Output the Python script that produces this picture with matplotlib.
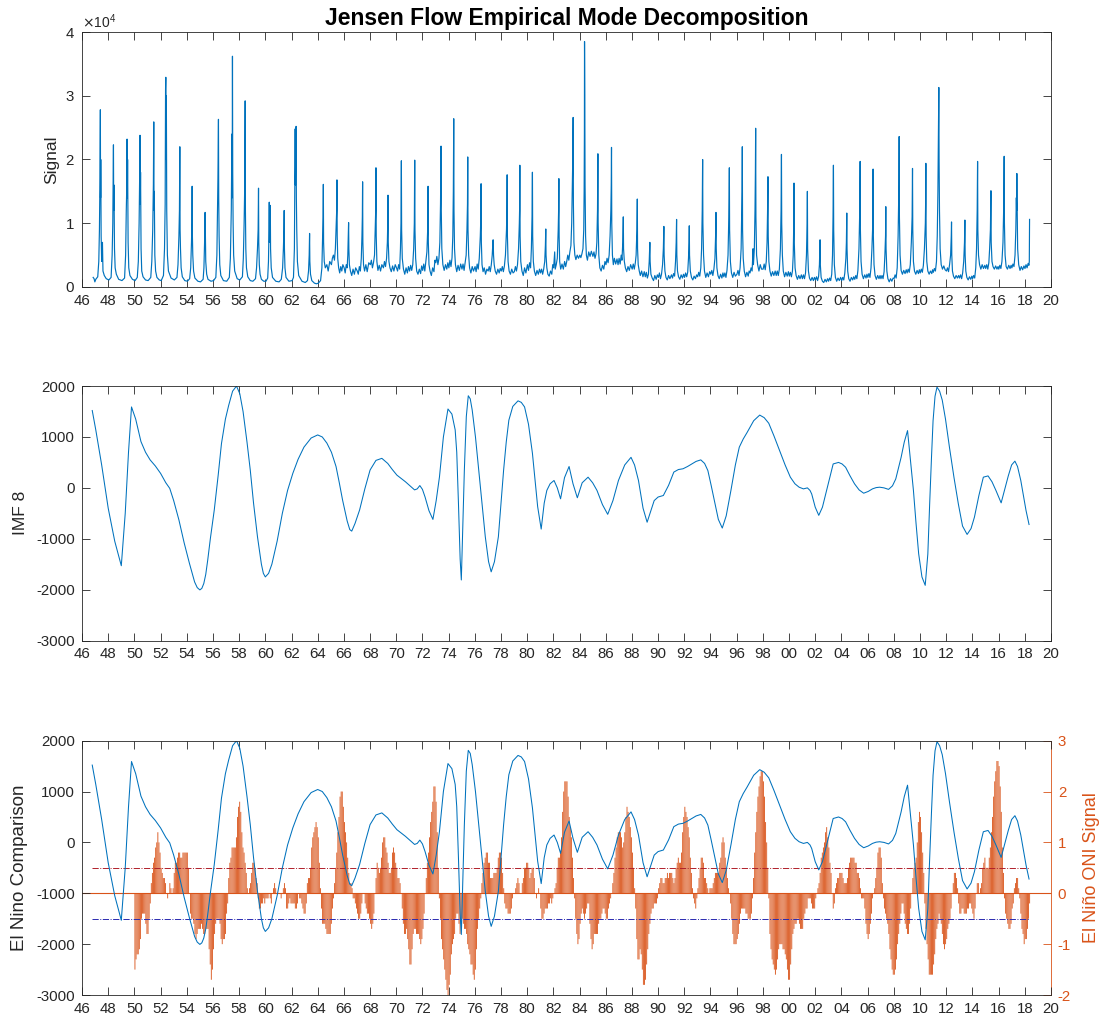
import numpy as np
import matplotlib
matplotlib.use("Agg")
import matplotlib.pyplot as plt
from matplotlib.ticker import FuncFormatter, MultipleLocator

plt.rcParams['font.family'] = ['Liberation Sans', 'DejaVu Sans']
plt.rcParams['axes.unicode_minus'] = False

# Green River at Jensen, daily flow (cfs) as (decimal year, flow) vertices
flow = [
    (1946.85, 1500), (1946.92, 1300), (1946.98, 800),
    (1947.05, 1200), (1947.20, 1600), (1947.28, 4000), (1947.33, 9000), (1947.37, 17000), (1947.40, 27800), (1947.415, 14000), (1947.43, 20000), (1947.46, 8000), (1947.50, 4000), (1947.56, 7000), (1947.60, 2500), (1947.70, 1800), (1947.85, 1300),
    (1948.05, 1100), (1948.22, 1500), (1948.30, 5000), (1948.35, 10000), (1948.38, 18000), (1948.40, 22300), (1948.42, 12000), (1948.44, 16000), (1948.48, 6000), (1948.53, 3000), (1948.62, 2000), (1948.80, 1200),
    (1949.05, 1000), (1949.25, 1400), (1949.33, 5000), (1949.38, 12000), (1949.41, 15000), (1949.44, 23200), (1949.46, 14000), (1949.48, 20000), (1949.52, 7000), (1949.57, 3000), (1949.66, 1800), (1949.85, 1200),
    (1950.05, 1000), (1950.22, 1500), (1950.30, 4000), (1950.36, 10000), (1950.40, 17000), (1950.43, 23800), (1950.45, 13000), (1950.47, 18000), (1950.51, 6000), (1950.56, 2500), (1950.66, 1600), (1950.85, 1100),
    (1951.05, 1000), (1951.25, 1500), (1951.33, 4000), (1951.40, 9000), (1951.45, 16000), (1951.48, 25900), (1951.50, 12000), (1951.52, 15000), (1951.56, 5000), (1951.62, 2500), (1951.72, 1500), (1951.90, 1100),
    (1952.05, 1000), (1952.22, 1800), (1952.30, 6000), (1952.35, 13000), (1952.38, 31000), (1952.40, 32900), (1952.42, 20000), (1952.44, 30000), (1952.47, 12000), (1952.52, 5000), (1952.60, 2500), (1952.80, 1400),
    (1953.05, 1100), (1953.25, 1500), (1953.33, 3500), (1953.40, 8000), (1953.44, 12000), (1953.47, 22000), (1953.49, 9000), (1953.52, 6000), (1953.57, 3000), (1953.66, 1600), (1953.85, 1000),
    (1954.05, 900), (1954.22, 1300), (1954.30, 3000), (1954.36, 7000), (1954.39, 10000), (1954.41, 15800), (1954.43, 8000), (1954.46, 5000), (1954.52, 2500), (1954.62, 1400), (1954.85, 900),
    (1955.05, 800), (1955.25, 1200), (1955.31, 3000), (1955.36, 7000), (1955.38, 11000), (1955.40, 11700), (1955.42, 8000), (1955.45, 4000), (1955.52, 2000), (1955.62, 1200), (1955.85, 900),
    (1956.05, 1000), (1956.22, 1500), (1956.30, 5000), (1956.35, 12000), (1956.38, 17000), (1956.40, 22000), (1956.42, 26300), (1956.44, 14000), (1956.47, 8000), (1956.52, 3500), (1956.60, 1800), (1956.80, 1000),
    (1957.05, 900), (1957.25, 1500), (1957.33, 4500), (1957.40, 12000), (1957.45, 24000), (1957.47, 14000), (1957.49, 36200), (1957.51, 18000), (1957.54, 10000), (1957.58, 5000), (1957.66, 2500), (1957.85, 1300),
    (1958.05, 1100), (1958.25, 1600), (1958.32, 4500), (1958.38, 10000), (1958.42, 15000), (1958.46, 29200), (1958.48, 12000), (1958.51, 6000), (1958.56, 3000), (1958.66, 1600), (1958.85, 1000),
    (1959.05, 900), (1959.25, 1300), (1959.33, 3000), (1959.40, 6000), (1959.45, 9000), (1959.48, 15500), (1959.50, 7000), (1959.54, 3500), (1959.60, 2000), (1959.70, 1200), (1959.88, 900),
    (1960.05, 900), (1960.18, 1400), (1960.24, 4000), (1960.28, 9000), (1960.30, 13300), (1960.32, 7000), (1960.35, 9000), (1960.38, 12800), (1960.40, 6000), (1960.45, 3000), (1960.55, 1500), (1960.80, 900),
    (1961.05, 800), (1961.22, 1200), (1961.32, 3000), (1961.38, 6000), (1961.42, 9000), (1961.44, 12000), (1961.46, 6000), (1961.50, 3000), (1961.58, 1500), (1961.80, 900),
    (1962.05, 1000), (1962.15, 1500), (1962.22, 6000), (1962.26, 20000), (1962.28, 24800), (1962.30, 16000), (1962.32, 21000), (1962.35, 25200), (1962.37, 14000), (1962.40, 9000), (1962.45, 4000), (1962.55, 1800), (1962.80, 900),
    (1963.05, 700), (1963.22, 1000), (1963.30, 2500), (1963.35, 5000), (1963.38, 8400), (1963.40, 4000), (1963.45, 2000), (1963.55, 1000), (1963.75, 600), (1963.90, 500),
    (1964.05, 600), (1964.22, 1000), (1964.32, 3000), (1964.38, 8000), (1964.41, 11000), (1964.43, 16100), (1964.45, 7000), (1964.50, 4000), (1964.58, 3000), (1964.70, 3500), (1964.80, 2500), (1964.92, 4000),
    (1965.05, 3500), (1965.12, 4500), (1965.20, 5000), (1965.28, 4200), (1965.35, 6000), (1965.40, 9000), (1965.45, 12000), (1965.47, 16800), (1965.49, 8000), (1965.53, 4500), (1965.60, 3000), (1965.68, 2200), (1965.76, 3200), (1965.84, 2500), (1965.92, 3500),
    (1966.02, 3000), (1966.10, 2200), (1966.18, 3500), (1966.25, 3000), (1966.30, 5000), (1966.34, 8000), (1966.36, 10100), (1966.38, 6000), (1966.42, 3500), (1966.50, 2500), (1966.60, 1800), (1966.70, 2800), (1966.80, 2000), (1966.90, 3000),
    (1967.02, 2500), (1967.10, 2000), (1967.18, 3200), (1967.26, 2500), (1967.33, 4500), (1967.38, 8000), (1967.41, 11000), (1967.43, 16500), (1967.45, 7000), (1967.50, 3500), (1967.58, 2500), (1967.68, 3500), (1967.78, 2400), (1967.90, 3800),
    (1968.02, 3500), (1968.10, 4200), (1968.18, 3000), (1968.26, 3800), (1968.34, 5000), (1968.40, 10000), (1968.43, 12000), (1968.45, 18700), (1968.47, 8000), (1968.52, 4000), (1968.60, 2600), (1968.70, 3400), (1968.80, 2500), (1968.90, 3500),
    (1969.02, 3000), (1969.10, 4000), (1969.18, 3200), (1969.26, 4500), (1969.32, 7000), (1969.35, 10000), (1969.37, 14400), (1969.39, 7000), (1969.44, 4000), (1969.52, 3000), (1969.62, 2400), (1969.72, 3300), (1969.82, 2500), (1969.92, 3500),
    (1970.02, 3000), (1970.10, 2500), (1970.18, 3500), (1970.26, 2800), (1970.32, 6000), (1970.36, 10000), (1970.39, 19800), (1970.41, 9000), (1970.46, 4500), (1970.55, 2800), (1970.65, 2000), (1970.75, 3000), (1970.85, 2200), (1970.93, 3200),
    (1971.02, 2500), (1971.10, 3400), (1971.18, 2600), (1971.26, 3500), (1971.33, 6000), (1971.38, 10000), (1971.41, 19900), (1971.43, 9000), (1971.48, 4500), (1971.56, 2500), (1971.66, 2000), (1971.76, 2800), (1971.86, 2100), (1971.94, 3300),
    (1972.02, 2600), (1972.10, 3600), (1972.18, 2500), (1972.26, 4000), (1972.34, 5500), (1972.40, 9000), (1972.43, 15800), (1972.45, 7000), (1972.50, 3500), (1972.58, 2500), (1972.68, 1800), (1972.78, 3000), (1972.88, 2400), (1972.95, 4200),
    (1973.02, 3800), (1973.10, 4800), (1973.18, 3500), (1973.26, 4500), (1973.33, 7000), (1973.38, 13000), (1973.40, 17000), (1973.42, 22100), (1973.44, 12000), (1973.48, 6000), (1973.56, 3500), (1973.66, 2600), (1973.76, 3500), (1973.86, 2800), (1973.94, 3800),
    (1974.02, 3000), (1974.10, 4200), (1974.18, 3200), (1974.26, 4600), (1974.32, 8000), (1974.36, 15000), (1974.39, 26400), (1974.41, 12000), (1974.45, 6000), (1974.52, 3500), (1974.62, 2400), (1974.72, 3400), (1974.82, 2600), (1974.92, 3600),
    (1975.02, 2800), (1975.10, 3600), (1975.18, 2600), (1975.26, 3800), (1975.34, 5000), (1975.40, 9000), (1975.44, 13000), (1975.46, 20400), (1975.48, 9000), (1975.53, 5000), (1975.60, 3000), (1975.70, 2200), (1975.80, 3200), (1975.90, 2500),
    (1976.02, 3200), (1976.10, 2400), (1976.18, 3600), (1976.26, 2800), (1976.34, 4500), (1976.42, 8000), (1976.46, 11000), (1976.48, 16200), (1976.50, 7000), (1976.55, 3500), (1976.63, 2400), (1976.72, 3000), (1976.82, 2000), (1976.92, 2800),
    (1977.02, 2500), (1977.10, 3200), (1977.18, 2400), (1977.26, 3500), (1977.33, 5000), (1977.38, 7000), (1977.40, 7400), (1977.43, 5000), (1977.48, 3500), (1977.56, 2500), (1977.66, 2000), (1977.76, 2800), (1977.86, 2200), (1977.94, 2900),
    (1978.02, 2500), (1978.10, 3200), (1978.18, 2400), (1978.26, 3300), (1978.34, 5000), (1978.42, 9000), (1978.45, 12000), (1978.47, 17600), (1978.49, 8000), (1978.54, 4000), (1978.62, 2500), (1978.72, 2000), (1978.82, 2800), (1978.92, 2200),
    (1979.02, 2400), (1979.10, 3200), (1979.18, 2500), (1979.26, 3500), (1979.34, 6000), (1979.40, 10000), (1979.42, 12000), (1979.44, 19100), (1979.46, 8000), (1979.51, 4000), (1979.60, 2500), (1979.70, 1800), (1979.80, 3000), (1979.90, 2200),
    (1980.02, 3500), (1980.10, 2600), (1980.18, 3800), (1980.26, 3000), (1980.32, 6000), (1980.37, 11000), (1980.40, 18000), (1980.42, 8000), (1980.47, 4000), (1980.55, 2500), (1980.65, 1800), (1980.75, 2600), (1980.85, 2000), (1980.94, 2800),
    (1981.02, 2200), (1981.10, 2800), (1981.18, 2000), (1981.26, 2800), (1981.34, 4000), (1981.39, 6500), (1981.42, 9100), (1981.44, 5000), (1981.50, 3000), (1981.58, 2000), (1981.68, 1700), (1981.78, 2500), (1981.88, 2000), (1981.95, 3500),
    (1982.02, 3000), (1982.10, 5500), (1982.14, 2800), (1982.22, 3500), (1982.30, 4500), (1982.37, 9000), (1982.40, 12000), (1982.42, 17000), (1982.44, 8000), (1982.48, 4000), (1982.56, 2800), (1982.66, 3600), (1982.76, 2800), (1982.86, 4000), (1982.94, 3200),
    (1983.02, 4000), (1983.10, 5000), (1983.18, 4200), (1983.26, 5500), (1983.34, 6500), (1983.40, 10000), (1983.45, 16000), (1983.48, 20000), (1983.51, 26600), (1983.53, 13000), (1983.57, 7000), (1983.64, 5000), (1983.72, 4300), (1983.82, 5000), (1983.92, 4500),
    (1984.02, 5000), (1984.10, 4600), (1984.18, 5200), (1984.26, 6000), (1984.32, 9000), (1984.35, 15000), (1984.37, 24000), (1984.38, 38500), (1984.40, 30000), (1984.42, 16000), (1984.46, 8000), (1984.52, 5000), (1984.60, 4200), (1984.70, 5500), (1984.80, 4800), (1984.90, 5600),
    (1985.02, 4800), (1985.10, 5500), (1985.18, 4500), (1985.26, 5200), (1985.32, 7000), (1985.37, 12000), (1985.40, 20900), (1985.42, 10000), (1985.47, 5000), (1985.55, 3000), (1985.65, 2500), (1985.75, 3400), (1985.85, 2800), (1985.94, 4000),
    (1986.02, 3500), (1986.10, 4500), (1986.18, 3800), (1986.26, 5000), (1986.33, 8000), (1986.39, 12000), (1986.42, 16000), (1986.44, 21900), (1986.46, 10000), (1986.51, 5000), (1986.58, 3500), (1986.66, 4500), (1986.76, 3600), (1986.86, 4400), (1986.94, 3500),
    (1987.02, 4500), (1987.10, 3600), (1987.18, 5000), (1987.24, 4200), (1987.30, 7000), (1987.34, 11000), (1987.36, 6000), (1987.42, 4000), (1987.50, 3000), (1987.60, 2400), (1987.70, 3200), (1987.80, 2600), (1987.90, 3500),
    (1988.02, 2800), (1988.10, 3600), (1988.18, 2800), (1988.26, 3800), (1988.32, 5000), (1988.38, 9000), (1988.41, 13800), (1988.43, 6000), (1988.48, 3500), (1988.56, 2500), (1988.64, 1800), (1988.74, 2500), (1988.84, 1600), (1988.94, 2400),
    (1989.02, 1600), (1989.10, 2300), (1989.18, 1400), (1989.26, 2000), (1989.32, 4000), (1989.37, 7000), (1989.39, 4000), (1989.45, 2000), (1989.55, 1400), (1989.65, 1000), (1989.75, 1800), (1989.85, 1200), (1989.94, 1900),
    (1990.02, 1500), (1990.10, 2200), (1990.18, 1300), (1990.26, 2000), (1990.34, 3500), (1990.40, 6000), (1990.44, 9500), (1990.46, 5000), (1990.52, 2500), (1990.60, 1500), (1990.70, 1100), (1990.80, 1800), (1990.90, 1300),
    (1991.02, 1900), (1991.10, 1400), (1991.18, 2100), (1991.26, 1700), (1991.33, 4000), (1991.38, 7000), (1991.41, 10600), (1991.43, 5000), (1991.48, 2500), (1991.56, 1600), (1991.66, 1200), (1991.76, 1900), (1991.86, 1400), (1991.94, 2000),
    (1992.02, 1500), (1992.10, 2200), (1992.18, 1600), (1992.26, 2300), (1992.32, 4500), (1992.36, 7000), (1992.38, 9600), (1992.40, 5000), (1992.46, 2500), (1992.55, 1500), (1992.65, 1100), (1992.75, 1700), (1992.85, 1300), (1992.94, 1900),
    (1993.02, 1600), (1993.10, 2300), (1993.18, 1700), (1993.26, 3000), (1993.32, 6000), (1993.37, 12000), (1993.40, 20000), (1993.42, 10000), (1993.47, 5000), (1993.54, 2500), (1993.64, 1500), (1993.74, 2200), (1993.84, 1600), (1993.94, 2400),
    (1994.02, 2000), (1994.10, 2600), (1994.18, 1800), (1994.26, 2800), (1994.34, 4500), (1994.39, 8000), (1994.42, 11700), (1994.44, 6000), (1994.49, 3000), (1994.57, 1800), (1994.67, 1300), (1994.77, 2000), (1994.87, 1400), (1994.95, 2200),
    (1995.02, 1600), (1995.10, 2200), (1995.18, 1500), (1995.26, 2600), (1995.34, 5000), (1995.40, 11000), (1995.42, 14000), (1995.44, 18700), (1995.46, 9000), (1995.52, 4000), (1995.60, 2200), (1995.70, 1500), (1995.80, 2300), (1995.90, 1700),
    (1996.02, 2000), (1996.10, 2600), (1996.18, 1800), (1996.26, 3000), (1996.34, 6000), (1996.39, 12000), (1996.41, 15000), (1996.43, 22000), (1996.45, 9000), (1996.50, 4500), (1996.58, 2500), (1996.68, 1600), (1996.78, 2300), (1996.88, 1700), (1996.95, 2500),
    (1997.02, 2200), (1997.10, 3000), (1997.18, 2500), (1997.25, 6000), (1997.28, 3500), (1997.35, 6000), (1997.40, 12000), (1997.43, 18000), (1997.45, 24900), (1997.47, 11000), (1997.52, 5000), (1997.60, 3500), (1997.70, 2500), (1997.80, 3500), (1997.90, 2800),
    (1998.02, 2800), (1998.10, 3600), (1998.18, 2700), (1998.26, 4000), (1998.32, 7000), (1998.36, 12000), (1998.39, 17300), (1998.41, 8000), (1998.46, 4000), (1998.54, 2500), (1998.64, 1700), (1998.74, 2400), (1998.84, 1800), (1998.94, 2500),
    (1999.02, 1800), (1999.10, 2500), (1999.18, 1800), (1999.26, 2800), (1999.34, 6000), (1999.39, 12000), (1999.42, 20800), (1999.44, 10000), (1999.49, 5000), (1999.56, 2500), (1999.66, 1600), (1999.76, 2300), (1999.86, 1700), (1999.95, 2400),
    (2000.02, 1700), (2000.10, 2300), (2000.18, 1600), (2000.26, 2500), (2000.32, 5000), (2000.36, 10000), (2000.38, 16300), (2000.40, 7000), (2000.46, 3000), (2000.54, 1800), (2000.64, 1200), (2000.74, 1800), (2000.84, 1300), (2000.94, 1900),
    (2001.02, 1300), (2001.10, 1900), (2001.18, 1300), (2001.26, 2200), (2001.33, 5000), (2001.38, 10000), (2001.40, 15000), (2001.42, 6000), (2001.48, 2500), (2001.56, 1400), (2001.66, 1000), (2001.76, 1500), (2001.86, 1000), (2001.94, 1500),
    (2002.02, 1100), (2002.10, 1600), (2002.18, 1000), (2002.26, 1700), (2002.32, 3500), (2002.37, 7400), (2002.39, 3500), (2002.45, 1500), (2002.55, 900), (2002.65, 700), (2002.75, 1200), (2002.85, 800), (2002.94, 1300),
    (2003.02, 900), (2003.10, 1400), (2003.18, 1000), (2003.26, 2000), (2003.32, 5000), (2003.36, 11000), (2003.39, 19100), (2003.41, 9000), (2003.46, 3500), (2003.54, 1500), (2003.64, 900), (2003.74, 1400), (2003.84, 1000), (2003.94, 1500),
    (2004.02, 1000), (2004.10, 1500), (2004.18, 1100), (2004.26, 2200), (2004.34, 4500), (2004.38, 7000), (2004.41, 11600), (2004.43, 6000), (2004.48, 2500), (2004.56, 1300), (2004.66, 900), (2004.76, 1500), (2004.86, 1100), (2004.94, 1600),
    (2005.02, 1200), (2005.10, 1800), (2005.18, 1300), (2005.26, 2600), (2005.34, 6000), (2005.40, 12000), (2005.43, 19700), (2005.45, 9000), (2005.50, 4000), (2005.58, 2000), (2005.68, 1300), (2005.78, 1900), (2005.88, 1400), (2005.95, 2000),
    (2006.02, 1500), (2006.10, 2100), (2006.18, 1500), (2006.26, 3000), (2006.33, 6000), (2006.38, 9000), (2006.40, 12000), (2006.42, 18500), (2006.44, 8000), (2006.49, 3500), (2006.57, 1800), (2006.67, 1200), (2006.77, 1800), (2006.87, 1300), (2006.95, 1800),
    (2007.02, 1300), (2007.10, 1800), (2007.18, 1300), (2007.26, 2400), (2007.32, 5000), (2007.37, 8000), (2007.39, 12600), (2007.41, 6000), (2007.47, 2500), (2007.55, 1300), (2007.65, 800), (2007.75, 1300), (2007.85, 900), (2007.95, 1400),
    (2008.02, 1300), (2008.10, 1900), (2008.18, 1400), (2008.26, 3000), (2008.33, 8000), (2008.37, 13000), (2008.39, 16000), (2008.41, 23600), (2008.43, 11000), (2008.48, 5000), (2008.56, 2600), (2008.66, 2000), (2008.76, 2600), (2008.86, 2100), (2008.95, 2700),
    (2009.02, 2200), (2009.10, 2800), (2009.18, 2300), (2009.26, 3500), (2009.34, 7000), (2009.40, 11000), (2009.43, 18600), (2009.45, 9000), (2009.50, 4000), (2009.58, 2500), (2009.68, 2000), (2009.78, 2600), (2009.88, 2100), (2009.95, 2700),
    (2010.02, 2200), (2010.10, 2800), (2010.18, 2300), (2010.26, 3400), (2010.34, 6000), (2010.41, 10000), (2010.43, 13000), (2010.45, 19400), (2010.47, 8000), (2010.52, 4000), (2010.60, 2500), (2010.70, 2000), (2010.80, 2500), (2010.90, 2100), (2010.96, 2700),
    (2011.02, 2300), (2011.10, 2900), (2011.18, 2500), (2011.26, 4000), (2011.32, 8000), (2011.37, 15000), (2011.40, 22000), (2011.42, 26000), (2011.44, 31300), (2011.46, 20000), (2011.49, 12000), (2011.54, 6000), (2011.62, 3500), (2011.72, 2800), (2011.82, 3300), (2011.92, 2700),
    (2012.02, 2500), (2012.10, 3000), (2012.18, 2400), (2012.26, 3500), (2012.34, 5000), (2012.39, 8000), (2012.41, 10200), (2012.43, 5000), (2012.48, 2500), (2012.56, 1700), (2012.66, 1300), (2012.76, 1800), (2012.86, 1400), (2012.95, 1800),
    (2013.02, 1400), (2013.10, 1900), (2013.18, 1300), (2013.26, 2200), (2013.34, 4000), (2013.40, 7000), (2013.43, 10500), (2013.45, 5000), (2013.50, 2500), (2013.58, 1500), (2013.68, 1100), (2013.78, 1600), (2013.88, 1200), (2013.96, 1700),
    (2014.02, 1300), (2014.10, 1800), (2014.18, 1400), (2014.26, 3000), (2014.32, 6000), (2014.37, 12000), (2014.40, 19700), (2014.42, 9000), (2014.47, 5000), (2014.55, 3500), (2014.65, 2800), (2014.75, 3500), (2014.85, 2900), (2014.95, 3400),
    (2015.02, 2900), (2015.10, 3500), (2015.18, 2800), (2015.26, 3800), (2015.32, 6000), (2015.38, 9000), (2015.42, 15100), (2015.44, 7000), (2015.50, 4000), (2015.58, 3200), (2015.68, 2800), (2015.78, 3300), (2015.88, 2800), (2015.96, 3200),
    (2016.02, 2800), (2016.10, 3400), (2016.18, 2900), (2016.26, 4000), (2016.34, 7000), (2016.40, 13000), (2016.43, 20500), (2016.45, 10000), (2016.50, 5000), (2016.58, 3200), (2016.68, 2800), (2016.78, 3400), (2016.88, 2900), (2016.96, 3400),
    (2017.02, 3000), (2017.10, 3600), (2017.18, 3200), (2017.26, 5000), (2017.32, 9000), (2017.36, 14000), (2017.38, 12000), (2017.40, 17800), (2017.42, 13000), (2017.46, 6000), (2017.54, 3500), (2017.64, 2600), (2017.74, 3200), (2017.84, 2700), (2017.94, 3300),
    (2018.02, 2900), (2018.10, 3500), (2018.18, 3000), (2018.26, 3700), (2018.32, 3400), (2018.35, 4000), (2018.37, 10600),
]

# intrinsic mode function 8 of the flow record
imf8 = [
    (1946.78, 1520), (1947.05, 1140), (1947.50, 450), (1948.00, -400), (1948.50, -1050),
    (1949.00, -1530), (1949.30, -500), (1949.55, 700), (1949.78, 1590), (1950.10, 1350),
    (1950.50, 910), (1950.85, 700), (1951.20, 550), (1951.60, 430), (1952.00, 285),
    (1952.40, 100), (1952.70, -10), (1953.00, -250), (1953.40, -630), (1953.80, -1080),
    (1954.20, -1480), (1954.60, -1850), (1954.80, -1960), (1955.00, -2005), (1955.15, -1975),
    (1955.30, -1880), (1955.45, -1700), (1955.60, -1420), (1955.80, -1000), (1956.10, -435),
    (1956.40, 250), (1956.65, 870), (1956.95, 1350), (1957.20, 1620), (1957.50, 1900),
    (1957.80, 2000), (1958.05, 1850), (1958.30, 1500), (1958.60, 900), (1958.85, 350),
    (1959.10, -300), (1959.40, -960), (1959.70, -1500), (1959.85, -1680), (1960.00, -1750),
    (1960.25, -1680), (1960.50, -1500), (1960.90, -1050), (1961.30, -500), (1961.70, -50),
    (1962.10, 285), (1962.50, 560), (1962.95, 800), (1963.50, 980), (1964.00, 1040),
    (1964.35, 1000), (1964.70, 880), (1965.05, 700), (1965.40, 420), (1965.65, 100),
    (1965.90, -240), (1966.25, -650), (1966.45, -820), (1966.60, -850), (1966.85, -700),
    (1967.20, -435), (1967.60, -20), (1968.00, 350), (1968.45, 540), (1968.90, 580),
    (1969.35, 480), (1969.70, 360), (1970.05, 250), (1970.40, 180), (1970.70, 120),
    (1971.05, 40), (1971.40, -40), (1971.60, -20), (1971.80, 45), (1972.00, -30),
    (1972.20, -180), (1972.50, -450), (1972.80, -620), (1973.05, -250), (1973.30, 215),
    (1973.60, 1000), (1973.95, 1550), (1974.25, 1450), (1974.50, 1140), (1974.62, 700),
    (1974.75, -300), (1974.88, -1400), (1974.97, -1810), (1975.08, -800), (1975.20, 340),
    (1975.35, 1400), (1975.50, 1810), (1975.65, 1750), (1975.80, 1530), (1976.05, 1000),
    (1976.30, 350), (1976.55, -300), (1976.80, -960), (1977.05, -1450), (1977.25, -1650),
    (1977.50, -1450), (1977.80, -960), (1978.00, -300), (1978.20, 350), (1978.40, 900),
    (1978.60, 1330), (1978.90, 1600), (1979.30, 1710), (1979.55, 1680), (1979.80, 1590),
    (1980.10, 1250), (1980.40, 680), (1980.60, 150), (1980.80, -370), (1981.07, -810),
    (1981.30, -300), (1981.50, -50), (1981.75, 80), (1982.05, 145), (1982.30, 0),
    (1982.55, -215), (1982.85, 200), (1983.20, 420), (1983.50, 80), (1983.83, -195),
    (1984.20, 100), (1984.65, 210), (1985.00, 100), (1985.33, -50), (1985.75, -330),
    (1986.15, -520), (1986.55, -250), (1986.97, 145), (1987.45, 450), (1987.93, 600),
    (1988.20, 450), (1988.50, 145), (1988.85, -400), (1989.16, -675), (1989.45, -450),
    (1989.70, -250), (1990.00, -180), (1990.40, -150), (1990.80, 50), (1991.20, 310),
    (1991.55, 360), (1991.90, 375), (1992.25, 420), (1992.57, 470), (1992.90, 520),
    (1993.26, 550), (1993.55, 480), (1993.80, 340), (1994.05, 50), (1994.35, -315),
    (1994.60, -620), (1994.90, -790), (1995.20, -550), (1995.56, -52), (1995.90, 450),
    (1996.20, 800), (1996.50, 960), (1996.80, 1090), (1997.30, 1320), (1997.76, 1430),
    (1998.10, 1380), (1998.45, 1270), (1998.85, 1020), (1999.27, 740), (1999.70, 450),
    (2000.10, 210), (2000.45, 80), (2000.77, 13), (2001.10, -20), (2001.40, 0),
    (2001.60, -50), (2001.73, -120), (2002.00, -380), (2002.27, -540), (2002.55, -380),
    (2002.80, -120), (2003.10, 200), (2003.37, 470), (2003.78, 500), (2004.05, 470),
    (2004.32, 405), (2004.65, 240), (2005.00, 80), (2005.35, -40), (2005.70, -105),
    (2006.05, -70), (2006.37, -20), (2006.65, 5), (2006.92, 13), (2007.25, 0),
    (2007.60, -30), (2007.90, 40), (2008.15, 175), (2008.35, 380), (2008.56, 600),
    (2008.80, 900), (2009.05, 1125), (2009.25, 600), (2009.50, -50), (2009.70, -700),
    (2009.90, -1295), (2010.15, -1750), (2010.40, -1915), (2010.60, -1300), (2010.74, -315),
    (2010.88, 600), (2011.00, 1320), (2011.15, 1800), (2011.30, 1980), (2011.50, 1900),
    (2011.70, 1725), (2011.95, 1350), (2012.25, 800), (2012.60, 200), (2012.93, -315),
    (2013.25, -750), (2013.60, -915), (2013.90, -800), (2014.16, -575), (2014.50, -150),
    (2014.84, 210), (2015.20, 235), (2015.50, 120), (2015.80, -50), (2016.20, -295),
    (2016.45, -50), (2016.75, 240), (2017.00, 450), (2017.25, 525), (2017.45, 420),
    (2017.70, 145), (2017.90, -150), (2018.10, -445), (2018.33, -720),
]

# Oceanic Nino Index, 3-month running seasons DJF..NDJ, from 1950
oni_start = 1950
oni = [
    [-1.5, -1.3, -1.2, -1.2, -1.1, -0.9, -0.5, -0.4, -0.4, -0.4, -0.6, -0.8],
    [-0.8, -0.5, -0.2, 0.2, 0.4, 0.6, 0.7, 0.9, 1.0, 1.2, 1.0, 0.8],
    [0.5, 0.4, 0.3, 0.3, 0.2, 0.0, -0.1, 0.0, 0.2, 0.1, 0.0, 0.1],
    [0.4, 0.6, 0.6, 0.7, 0.8, 0.8, 0.7, 0.7, 0.8, 0.8, 0.8, 0.8],
    [0.8, 0.5, 0.0, -0.4, -0.5, -0.5, -0.6, -0.8, -0.9, -0.8, -0.7, -0.7],
    [-0.7, -0.6, -0.7, -0.8, -0.8, -0.7, -0.7, -0.7, -1.1, -1.4, -1.7, -1.5],
    [-1.1, -0.8, -0.6, -0.5, -0.5, -0.5, -0.6, -0.9, -1.0, -0.9, -0.9, -0.8],
    [-0.4, -0.2, 0.3, 0.6, 0.7, 0.9, 0.9, 0.9, 0.9, 1.1, 1.5, 1.7],
    [1.8, 1.6, 1.2, 0.9, 0.8, 0.6, 0.4, 0.1, 0.0, 0.1, 0.2, 0.4],
    [0.6, 0.6, 0.5, 0.3, 0.2, -0.1, -0.3, -0.3, -0.2, -0.2, -0.1, -0.2],
    [-0.1, -0.1, -0.1, 0.0, -0.1, -0.2, 0.0, 0.1, 0.2, 0.1, 0.0, 0.0],
    [0.0, 0.0, -0.1, 0.0, 0.1, 0.2, 0.1, -0.3, -0.3, -0.2, -0.1, -0.2],
    [-0.2, -0.2, -0.2, -0.3, -0.3, -0.2, 0.0, -0.1, -0.1, -0.2, -0.3, -0.4],
    [-0.4, -0.2, 0.2, 0.3, 0.3, 0.5, 0.9, 1.1, 1.2, 1.3, 1.4, 1.3],
    [1.1, 0.6, 0.1, -0.3, -0.6, -0.6, -0.6, -0.7, -0.8, -0.8, -0.8, -0.8],
    [-0.6, -0.3, -0.1, 0.2, 0.5, 0.8, 1.2, 1.5, 1.9, 2.0, 2.0, 1.7],
    [1.4, 1.2, 1.0, 0.7, 0.4, 0.2, 0.2, 0.1, -0.1, -0.1, -0.2, -0.3],
    [-0.4, -0.5, -0.5, -0.4, -0.2, 0.0, 0.0, -0.2, -0.3, -0.4, -0.4, -0.5],
    [-0.6, -0.7, -0.6, -0.4, 0.0, 0.3, 0.6, 0.5, 0.4, 0.5, 0.7, 1.0],
    [1.1, 1.1, 0.9, 0.8, 0.6, 0.4, 0.4, 0.5, 0.8, 0.9, 0.8, 0.6],
    [0.5, 0.3, 0.3, 0.2, 0.0, -0.3, -0.6, -0.8, -0.8, -0.7, -0.9, -1.1],
    [-1.4, -1.4, -1.1, -0.8, -0.7, -0.7, -0.8, -0.8, -0.8, -0.9, -1.0, -0.9],
    [-0.7, -0.4, 0.0, 0.3, 0.6, 0.8, 1.1, 1.4, 1.6, 1.8, 2.1, 2.1],
    [1.8, 1.2, 0.5, -0.1, -0.5, -0.9, -1.1, -1.3, -1.5, -1.7, -1.9, -2.0],
    [-1.8, -1.6, -1.2, -1.0, -0.9, -0.8, -0.5, -0.4, -0.4, -0.6, -0.8, -0.6],
    [-0.5, -0.6, -0.7, -0.7, -0.8, -1.0, -1.1, -1.2, -1.4, -1.4, -1.6, -1.7],
    [-1.5, -1.1, -0.7, -0.5, -0.3, -0.1, 0.2, 0.4, 0.6, 0.7, 0.8, 0.8],
    [0.6, 0.6, 0.3, 0.3, 0.3, 0.4, 0.4, 0.4, 0.5, 0.7, 0.8, 0.8],
    [0.7, 0.4, 0.1, -0.2, -0.3, -0.3, -0.4, -0.4, -0.4, -0.3, -0.1, 0.0],
    [0.0, 0.1, 0.2, 0.3, 0.2, 0.0, 0.0, 0.2, 0.3, 0.5, 0.5, 0.6],
    [0.6, 0.5, 0.3, 0.4, 0.5, 0.5, 0.3, 0.0, -0.1, 0.0, 0.1, 0.0],
    [-0.3, -0.5, -0.5, -0.4, -0.3, -0.3, -0.3, -0.2, -0.2, -0.1, -0.2, -0.1],
    [0.0, 0.1, 0.2, 0.5, 0.7, 0.7, 0.8, 1.1, 1.6, 2.0, 2.2, 2.2],
    [2.2, 1.9, 1.5, 1.3, 1.1, 0.7, 0.3, -0.1, -0.5, -0.8, -1.0, -0.9],
    [-0.6, -0.4, -0.3, -0.4, -0.5, -0.4, -0.3, -0.2, -0.2, -0.6, -0.9, -1.1],
    [-1.0, -0.8, -0.8, -0.8, -0.8, -0.6, -0.5, -0.5, -0.4, -0.3, -0.3, -0.4],
    [-0.5, -0.5, -0.3, -0.2, -0.1, 0.0, 0.2, 0.4, 0.7, 0.9, 1.1, 1.2],
    [1.2, 1.2, 1.1, 0.9, 1.0, 1.2, 1.5, 1.7, 1.6, 1.5, 1.3, 1.1],
    [0.8, 0.5, 0.1, -0.3, -0.9, -1.3, -1.3, -1.1, -1.2, -1.5, -1.8, -1.8],
    [-1.7, -1.4, -1.1, -0.8, -0.6, -0.4, -0.3, -0.3, -0.2, -0.2, -0.2, -0.1],
    [0.1, 0.2, 0.3, 0.3, 0.2, 0.2, 0.3, 0.3, 0.4, 0.3, 0.4, 0.4],
    [0.4, 0.3, 0.2, 0.3, 0.5, 0.6, 0.7, 0.6, 0.6, 0.8, 1.2, 1.5],
    [1.7, 1.6, 1.5, 1.3, 1.1, 0.7, 0.4, 0.1, -0.1, -0.2, -0.3, -0.1],
    [0.1, 0.3, 0.5, 0.7, 0.7, 0.6, 0.3, 0.3, 0.2, 0.1, 0.0, 0.1],
    [0.1, 0.1, 0.2, 0.3, 0.4, 0.4, 0.4, 0.4, 0.6, 0.7, 1.0, 1.1],
    [1.0, 0.7, 0.5, 0.3, 0.1, 0.0, -0.2, -0.5, -0.8, -1.0, -1.0, -1.0],
    [-0.9, -0.8, -0.6, -0.4, -0.3, -0.3, -0.3, -0.3, -0.4, -0.4, -0.5, -0.5],
    [-0.5, -0.4, -0.1, 0.3, 0.8, 1.2, 1.6, 1.9, 2.1, 2.3, 2.4, 2.4],
    [2.2, 1.9, 1.4, 1.0, 0.5, -0.1, -0.8, -1.1, -1.3, -1.4, -1.5, -1.6],
    [-1.5, -1.3, -1.1, -1.0, -1.0, -1.0, -1.1, -1.1, -1.2, -1.3, -1.5, -1.7],
    [-1.7, -1.4, -1.1, -0.8, -0.7, -0.6, -0.6, -0.5, -0.5, -0.6, -0.7, -0.7],
    [-0.7, -0.5, -0.4, -0.3, -0.3, -0.1, -0.1, -0.1, -0.2, -0.3, -0.3, -0.3],
    [-0.1, 0.0, 0.1, 0.2, 0.4, 0.7, 0.8, 0.9, 1.0, 1.2, 1.3, 1.1],
    [0.9, 0.6, 0.4, 0.0, -0.3, -0.2, 0.1, 0.2, 0.3, 0.3, 0.4, 0.4],
    [0.4, 0.3, 0.2, 0.2, 0.2, 0.3, 0.5, 0.6, 0.7, 0.7, 0.7, 0.7],
    [0.6, 0.6, 0.4, 0.4, 0.3, 0.1, -0.1, -0.1, -0.1, -0.3, -0.6, -0.8],
    [-0.9, -0.8, -0.6, -0.4, -0.1, 0.0, 0.1, 0.3, 0.5, 0.8, 0.9, 0.9],
    [0.7, 0.2, -0.1, -0.3, -0.4, -0.5, -0.6, -0.8, -1.1, -1.3, -1.5, -1.6],
    [-1.6, -1.5, -1.3, -1.0, -0.8, -0.6, -0.4, -0.2, -0.2, -0.4, -0.6, -0.7],
    [-0.8, -0.8, -0.6, -0.3, 0.0, 0.3, 0.5, 0.6, 0.7, 1.0, 1.4, 1.6],
    [1.5, 1.2, 0.8, 0.4, -0.2, -0.7, -1.0, -1.3, -1.6, -1.6, -1.6, -1.6],
    [-1.4, -1.2, -0.9, -0.7, -0.6, -0.4, -0.5, -0.6, -0.8, -1.0, -1.1, -1.0],
    [-0.9, -0.7, -0.6, -0.5, -0.3, 0.0, 0.2, 0.4, 0.4, 0.3, 0.1, -0.2],
    [-0.4, -0.4, -0.3, -0.3, -0.4, -0.4, -0.4, -0.3, -0.3, -0.2, -0.2, -0.3],
    [-0.4, -0.5, -0.3, 0.0, 0.2, 0.2, 0.0, 0.1, 0.2, 0.5, 0.6, 0.7],
    [0.5, 0.5, 0.5, 0.7, 0.9, 1.2, 1.5, 1.9, 2.2, 2.4, 2.6, 2.6],
    [2.5, 2.1, 1.6, 0.9, 0.4, -0.1, -0.4, -0.5, -0.6, -0.7, -0.7, -0.6],
    [-0.3, -0.2, 0.1, 0.2, 0.3, 0.3, 0.1, -0.1, -0.4, -0.7, -0.8, -1.0],
    [-0.9, -0.9, -0.7, -0.5, -0.2],
]

blue = '#0072BD'
orange = '#D95319'
axis_col = '#262626'

flow_t, flow_q = zip(*flow)
imf_t, imf_v = zip(*imf8)
oni_v = [v for row in oni for v in row]
oni_t = oni_start + (np.arange(len(oni_v)) + 0.5) / 12.0

year_fmt = FuncFormatter(lambda v, pos: f"{int(round(v)) % 100:02d}")


def style(ax, right=True):
    ax.set_xlim(1946, 2020)
    ax.xaxis.set_major_locator(MultipleLocator(2))
    ax.xaxis.set_major_formatter(year_fmt)
    ax.tick_params(direction='in', length=6, width=0.6, colors=axis_col,
                   labelsize=10.8, top=True, right=right, pad=5)
    for s in ax.spines.values():
        s.set_color(axis_col)
        s.set_linewidth(0.6)


fig = plt.figure(figsize=(11.01, 10.26), dpi=100)
left, width = 0.0745, 0.880
ax1 = fig.add_axes([left, 0.7203, width, 0.2485])
ax2 = fig.add_axes([left, 0.3757, width, 0.2480])
ax3 = fig.add_axes([left, 0.0302, width, 0.2479])

# raw signal
ax1.plot(flow_t, flow_q, color=blue, lw=0.85)
style(ax1)
ax1.set_ylim(0, 40000)
ax1.yaxis.set_major_locator(MultipleLocator(10000))
ax1.ticklabel_format(axis='y', style='sci', scilimits=(4, 4), useMathText=True)
ax1.yaxis.get_offset_text().set_fontsize(10)
ax1.yaxis.get_offset_text().set_color(axis_col)
ax1.set_ylabel('Signal', fontsize=12.5, color=axis_col)
ax1.yaxis.set_label_coords(-0.024, 0.5)
fig.text(left + width / 2, 1 - 18 / 1026, 'Jensen Flow Empirical Mode Decomposition',
         ha='center', va='center', fontsize=16.5, fontweight='bold', color='black')

# IMF 8
ax2.plot(imf_t, imf_v, color=blue, lw=0.75)
style(ax2)
ax2.set_ylim(-3000, 2000)
ax2.yaxis.set_major_locator(MultipleLocator(1000))
ax2.set_ylabel('IMF 8', fontsize=12.5, color=axis_col)
ax2.yaxis.set_label_coords(-0.056, 0.5)

# IMF 8 against the ONI
ax3r = ax3.twinx()
ax3r.bar(oni_t, oni_v, width=0.8 / 12, color=orange, edgecolor='none',
         linewidth=0, snap=False)
ax3r.axhline(0, color=orange, lw=0.8)
ax3r.hlines(0.5, imf_t[0], imf_t[-1], colors='#b0202a', linestyles='-.', lw=0.7)
ax3r.hlines(-0.5, imf_t[0], imf_t[-1], colors='#2a2ab0', linestyles='-.', lw=0.7)
ax3r.set_ylim(-2, 3)
ax3r.yaxis.set_major_locator(MultipleLocator(1))
ax3r.tick_params(axis='y', direction='in', length=6, width=0.6, colors=orange, labelsize=10.8, pad=5)
ax3r.spines['right'].set_color(orange)
ax3r.spines['right'].set_linewidth(0.6)
for s in ('left', 'top', 'bottom'):
    ax3r.spines[s].set_visible(False)
ax3r.set_ylabel('El Niño ONI Signal', fontsize=13, color=orange)
ax3r.yaxis.set_label_coords(1.033, 0.5)

ax3.plot(imf_t, imf_v, color=blue, lw=0.75)
style(ax3, right=False)
ax3.spines['right'].set_visible(False)
ax3.set_ylim(-3000, 2000)
ax3.yaxis.set_major_locator(MultipleLocator(1000))
ax3.set_ylabel('El Nino Comparison', fontsize=13.5, color=axis_col)
ax3.yaxis.set_label_coords(-0.056, 0.5)
ax3.set_zorder(ax3r.get_zorder() + 1)
ax3.patch.set_visible(False)

fig.savefig('out.png', dpi=100)
